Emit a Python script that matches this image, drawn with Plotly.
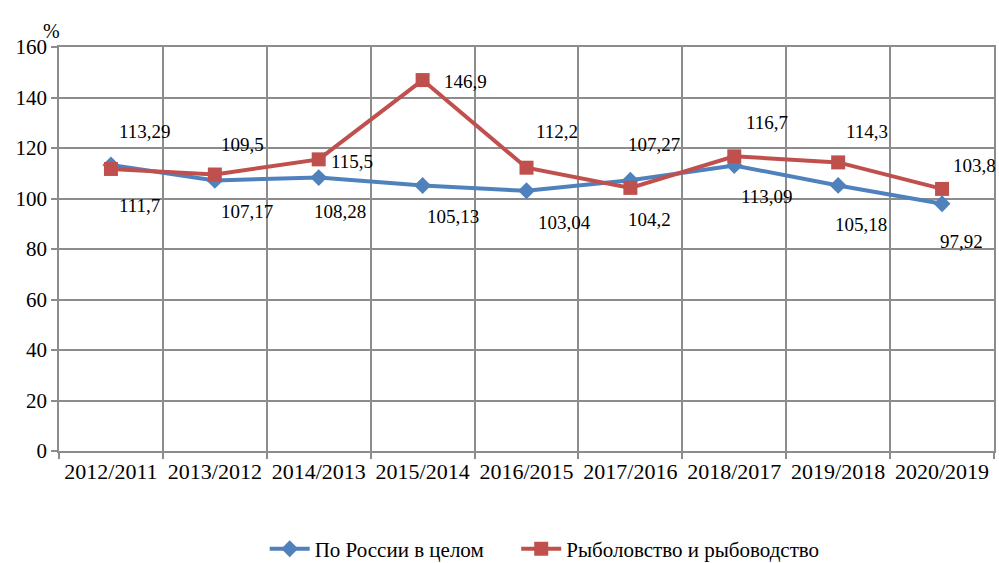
import plotly.graph_objects as go

categories = ["2012/2011", "2013/2012", "2014/2013", "2015/2014", "2016/2015",
              "2017/2016", "2018/2017", "2019/2018", "2020/2019"]
russia = [113.29, 107.17, 108.28, 105.13, 103.04, 107.27, 113.09, 105.18, 97.92]
fishing = [111.7, 109.5, 115.5, 146.9, 112.2, 104.2, 116.7, 114.3, 103.8]
series_names = ["По России в целом", "Рыболовство и рыбоводство"]
y_ticks = [0, 20, 40, 60, 80, 100, 120, 140, 160]

# label offsets in pixels (dx, dy; dy positive = downward)
russia_off = [(34, -33), (32, 31), (21, 34), (30, 31), (38, 32), (24, -36), (33, 31), (23, 39), (19, 38)]
fishing_off = [(29, 37), (28, -30), (33, 2), (43, 1), (30, -36), (19, 32), (33, -34), (29, -31), (32, -23)]

BLUE = "#4F81BD"
RED = "#C0504D"
GRID = "#8C8C8C"
FONT = "Liberation Serif, Times New Roman, serif"

fig = go.Figure()
fig.add_trace(go.Scatter(x=categories, y=russia, name=series_names[0], mode="lines+markers",
                         line=dict(color=BLUE, width=4), legend="legend",
                         marker=dict(symbol="diamond", size=13, color=BLUE)))
fig.add_trace(go.Scatter(x=categories, y=fishing, name=series_names[1], mode="lines+markers",
                         line=dict(color=RED, width=4), legend="legend2",
                         marker=dict(symbol="square", size=14, color=RED)))

def fmt(v):
    return str(v).replace(".", ",")

anns = []
for vals, offs in ((russia, russia_off), (fishing, fishing_off)):
    for c, v, (dx, dy) in zip(categories, vals, offs):
        anns.append(dict(x=c, y=v, xref="x", yref="y", text=fmt(v), showarrow=False,
                         xshift=dx, yshift=-dy,
                         font=dict(family=FONT, size=19, color="#000000")))
anns.append(dict(x=-0.019, y=1.073, xref="paper", yref="paper", text="%", showarrow=False,
                 font=dict(family=FONT, size=20, color="#000000")))

leg_common = dict(orientation="h", xanchor="left", y=-0.243, yanchor="middle",
                  font=dict(family=FONT, size=21), itemwidth=40, bgcolor="rgba(0,0,0,0)")

fig.update_layout(
    width=999, height=563,
    margin=dict(l=59, r=5, t=47, b=112, autoexpand=False),
    paper_bgcolor="white", plot_bgcolor="white",
    font=dict(family=FONT, size=21, color="#000000"),
    annotations=anns,
    showlegend=True,
    legend=dict(x=0.22, **leg_common),
    legend2=dict(x=0.489, **leg_common),
    xaxis=dict(type="category", range=[-0.5, 8.5], showgrid=True, gridcolor=GRID, gridwidth=1.5,
               tickson="boundaries", ticks="outside", ticklen=6, tickcolor=GRID, tickwidth=1.5,
               showline=True, linecolor=GRID, linewidth=1.5, mirror=True, automargin=False,
               tickfont=dict(family=FONT, size=22), zeroline=False),
    yaxis=dict(range=[0, 160], tickvals=y_ticks, showgrid=True, gridcolor=GRID, gridwidth=1.5,
               ticks="outside", ticklen=6, tickcolor=GRID, tickwidth=1.5,
               showline=True, linecolor=GRID, linewidth=1.5, mirror=True, automargin=False,
               tickfont=dict(family=FONT, size=21), zeroline=False),
)

fig.write_html("out.html", config={"displayModeBar": False},
               post_script="document.body.style.margin='0';document.body.style.overflow='hidden';")
